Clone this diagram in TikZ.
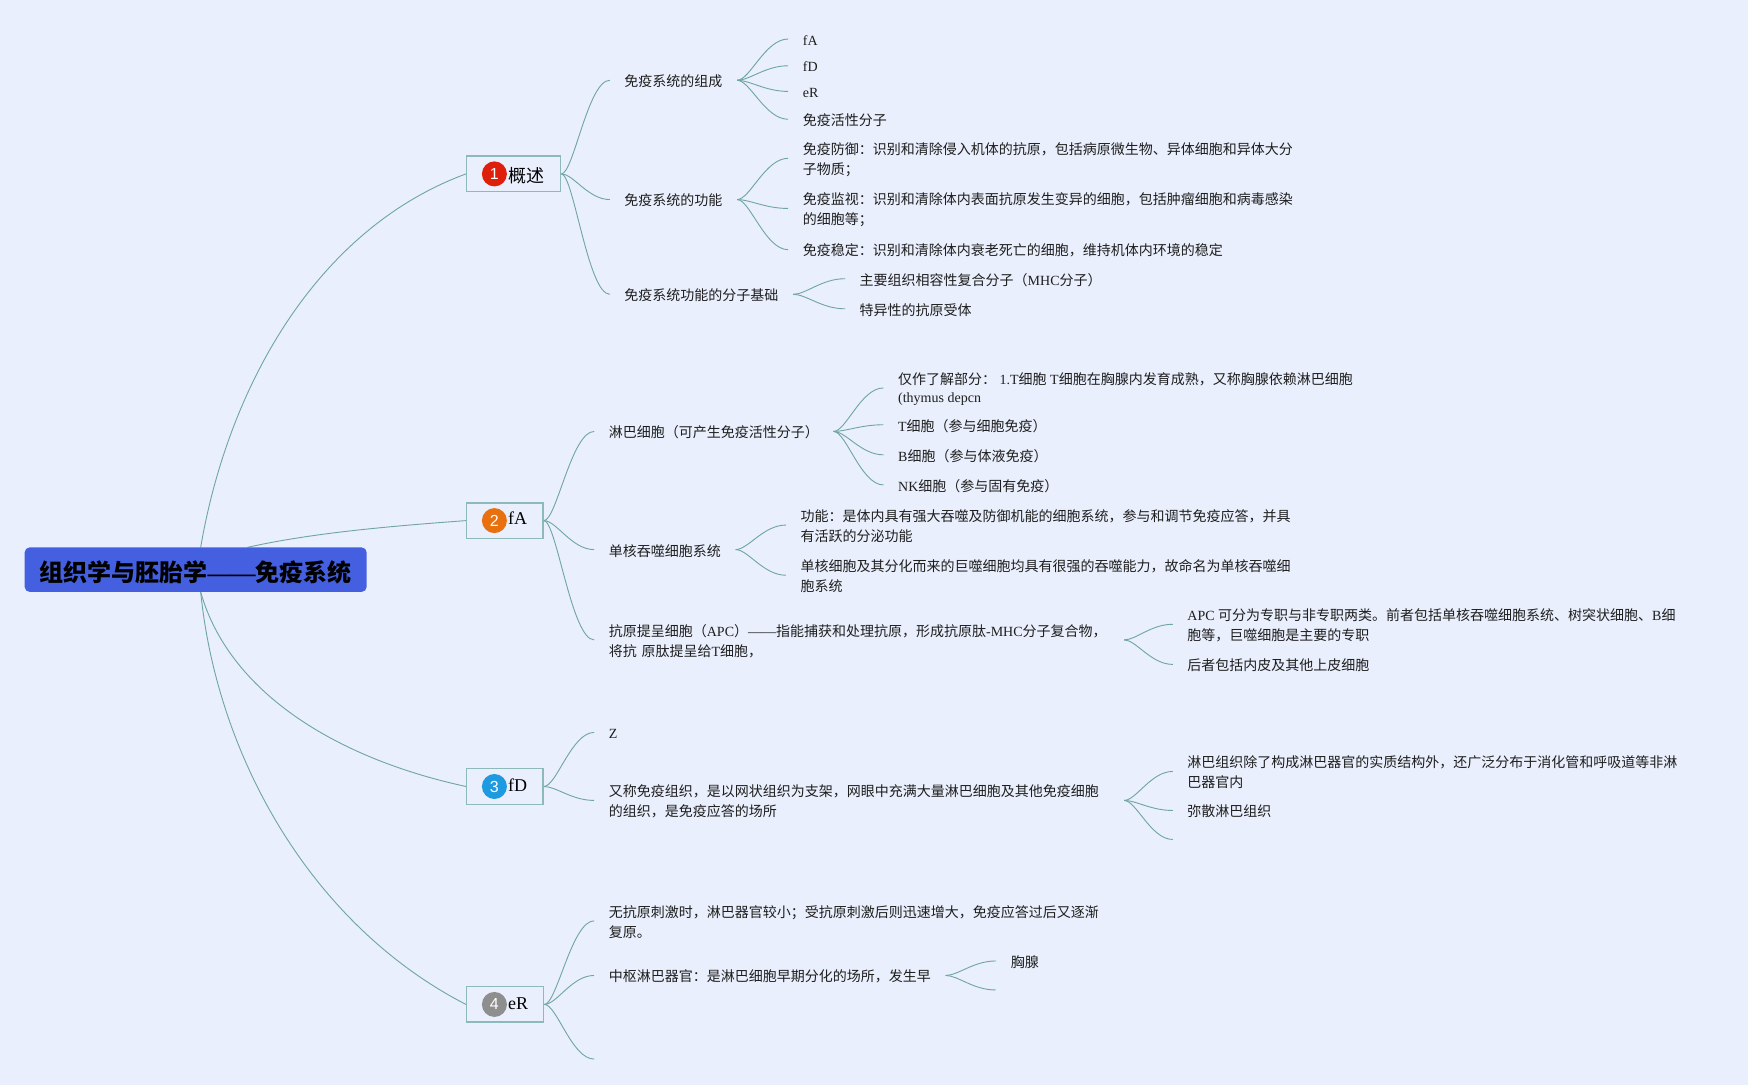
\documentclass[tikz,border=0pt]{standalone}
\usepackage{fontspec}
\usetikzlibrary{calc}
\setmainfont{Noto Sans CJK SC}
\newfontfamily\latfont{Liberation Serif}
\newfontfamily\numfont{Liberation Sans}
\newcommand\lat[1]{{\latfont #1}}
\definecolor{bgc}{HTML}{E9EFFC}
\definecolor{linkc}{HTML}{6FA5A3}
\definecolor{boxc}{HTML}{8DB9BA}
\definecolor{rootc}{HTML}{4460E0}
\definecolor{txtc}{HTML}{1E1E1E}
\definecolor{badgeA}{HTML}{DD1F0B}
\definecolor{badgeB}{HTML}{E8700F}
\definecolor{badgeC}{HTML}{1E9BE0}
\definecolor{badgeD}{HTML}{8E8E8E}
\tikzset{
  leaf/.style={anchor=west,yshift=-1.1pt,inner xsep=14.5pt,inner ysep=0pt,align=left,text=txtc,font=\fontsize{14}{20}\selectfont},
  link/.style={draw=linkc,line width=0.9pt},
  topic/.style={draw=boxc,line width=1.4pt,fill=bgc,anchor=west,inner sep=0pt,minimum height=35.5pt,text=black,font=\fontsize{18}{20}\selectfont},
  badge/.style={circle,inner sep=0pt,minimum size=25pt,text=white,font=\numfont\fontsize{16}{16}\selectfont},
  rootbox/.style={rounded corners=5pt,fill=rootc,minimum width=342pt,minimum height=44.5pt,inner sep=0pt,text=black,font=\bfseries\fontsize{24}{26}\selectfont}
}
\newcommand\conn[3][1.1pt]{\draw[link] let \p1=($(#2)+(0pt,#1)$),\p2=($(#3)+(0pt,1.1pt)$),\n1={\x2-\x1} in (\p1) .. controls (\x1+.25*\n1,\y1) and (\x1+.55*\n1,\y2) .. (\p2);}
\newcommand\tlabel[2]{\hspace{41.5pt}\raisebox{#1}[0pt][0pt]{#2}}
\begin{document}
\begin{tikzpicture}[x=1.1148pt,y=-1.1148pt]
\useasboundingbox (0,0) rectangle (1568,973);
\fill[bgc] (0,0) rectangle (1568,973);
% root and its attachment points
\coordinate (rootN) at (180,491);
\coordinate (rootF) at (222,491);
\coordinate (rootS) at (180,531);
% topics
\node[topic] (t1) at (418,156) {\makebox[94pt][l]{\tlabel{-9pt}{概述}}};
\node[topic] (t2) at (418,467) {\makebox[76.5pt][l]{\tlabel{-4pt}{\lat{fA}}}};
\node[topic] (t3) at (418,705.5) {\makebox[76.5pt][l]{\tlabel{-5pt}{\lat{fD}}}};
\node[topic] (t4) at (418,901) {\makebox[77pt][l]{\tlabel{-5pt}{\lat{eR}}}};
\node[badge,fill=badgeA] (b1) at (443.5,156) {1};
\node[badge,fill=badgeB] (b2) at (443.5,467) {2};
\node[badge,fill=badgeC] (b3) at (443.5,705.5) {3};
\node[badge,fill=badgeD] (b4) at (443.5,901) {4};
\draw[link] (rootN) .. controls (205,345) and (285,205) .. (t1.west);
\draw[link] (rootF) .. controls (280,478) and (350,472) .. (t2.west);
\draw[link] (rootS) .. controls (205,620) and (300,680) .. (t3.west);
\draw[link] (rootS) .. controls (195,680) and (280,830) .. (t4.west);
\node[rootbox] (root) at (175.5,511) {\raisebox{-11.4pt}[0pt][0pt]{组织学与胚胎学\lat{——}免疫系统}};
% section 1
\node[leaf] (a1) at (547,72) {免疫系统的组成};
\node[leaf] (a2) at (547,179) {免疫系统的功能};
\node[leaf] (a3) at (547,264) {免疫系统功能的分子基础};
\node[leaf] (a11) at (707,35) {\lat{fA}};
\node[leaf] (a12) at (707,59) {\lat{fD}};
\node[leaf] (a13) at (707,82) {\lat{eR}};
\node[leaf] (a14) at (707,107) {免疫活性分子};
\node[leaf] (a21) at (707,142) {免疫防御：识别和清除侵入机体的抗原，包括病原微生物、异体细胞和异体大分\\子物质；};
\node[leaf] (a22) at (707,187) {免疫监视：识别和清除体内表面抗原发生变异的细胞，包括肿瘤细胞和病毒感染\\的细胞等；};
\node[leaf] (a23) at (707,224) {免疫稳定：识别和清除体内衰老死亡的细胞，维持机体内环境的稳定};
\node[leaf] (a31) at (758,250) {主要组织相容性复合分子（\lat{MHC}分子）};
\node[leaf] (a32) at (758,277) {特异性的抗原受体};
\conn[0pt]{t1.east}{a1.west}\conn[0pt]{t1.east}{a2.west}\conn[0pt]{t1.east}{a3.west}
\conn{a1.east}{a11.west}\conn{a1.east}{a12.west}\conn{a1.east}{a13.west}\conn{a1.east}{a14.west}
\conn{a2.east}{a21.west}\conn{a2.east}{a22.west}\conn{a2.east}{a23.west}
\conn{a3.east}{a31.west}\conn{a3.east}{a32.west}
% section 2
\node[leaf] (c1) at (533,387) {淋巴细胞（可产生免疫活性分子）};
\node[leaf] (c2) at (533,493) {单核吞噬细胞系统};
\node[leaf,text width=500.5pt] (c3) at (533,574) {抗原提呈细胞（\lat{APC}）\lat{——}指能捕获和处理抗原，形成抗原肽\lat{-MHC}分子复合物，\\将抗\lat{ }原肽提呈给\lat{T}细胞，};
\node[leaf,font=\fontsize{14}{18}\selectfont] (c11) at (792.5,348) {仅作了解部分：\lat{ 1.T}细胞\lat{ T}细胞在胸腺内发育成熟，又称胸腺依赖淋巴细胞\\\lat{(thymus depcn}};
\node[leaf] (c12) at (792.5,381) {\lat{T}细胞（参与细胞免疫）};
\node[leaf] (c13) at (792.5,408) {\lat{B}细胞（参与体液免疫）};
\node[leaf] (c14) at (792.5,435) {\lat{NK}细胞（参与固有免疫）};
\node[leaf] (c21) at (705,471) {功能：是体内具有强大吞噬及防御机能的细胞系统，参与和调节免疫应答，并具\\有活跃的分泌功能};
\node[leaf] (c22) at (705,516) {单核细胞及其分化而来的巨噬细胞均具有很强的吞噬能力，故命名为单核吞噬细\\胞系统};
\node[leaf] (c31) at (1052,560) {\lat{APC }可分为专职与非专职两类。前者包括单核吞噬细胞系统、树突状细胞、\lat{B}细\\胞等，巨噬细胞是主要的专职};
\node[leaf] (c32) at (1052,596) {后者包括内皮及其他上皮细胞};
\conn[0pt]{t2.east}{c1.west}\conn[0pt]{t2.east}{c2.west}\conn[0pt]{t2.east}{c3.west}
\conn{c1.east}{c11.west}\conn{c1.east}{c12.west}\conn{c1.east}{c13.west}\conn{c1.east}{c14.west}
\conn{c2.east}{c21.west}\conn{c2.east}{c22.west}
\conn{c3.east}{c31.west}\conn{c3.east}{c32.west}
% section 3
\node[leaf] (d1) at (533,657) {\lat{Z}};
\node[leaf,text width=500.5pt] (d2) at (533,718) {又称免疫组织，是以网状组织为支架，网眼中充满大量淋巴细胞及其他免疫细胞\\的组织，是免疫应答的场所};
\node[leaf] (d21) at (1052,692) {淋巴组织除了构成淋巴器官的实质结构外，还广泛分布于消化管和呼吸道等非淋\\巴器官内};
\node[leaf] (d22) at (1052,727) {弥散淋巴组织};
\coordinate (d23) at (1052,754);
\conn[0pt]{t3.east}{d1.west}\conn[0pt]{t3.east}{d2.west}
\conn{d2.east}{d21.west}\conn{d2.east}{d22.west}\conn{d2.east}{d23}
% section 4
\node[leaf] (e1) at (533,826) {无抗原刺激时，淋巴器官较小；受抗原刺激后则迅速增大，免疫应答过后又逐渐\\复原。};
\node[leaf] (e2) at (533,875) {中枢淋巴器官：是淋巴细胞早期分化的场所，发生早};
\coordinate (e3) at (533,951);
\node[leaf] (e21) at (893.5,862) {胸腺};
\coordinate (e22) at (893,889);
\conn[0pt]{t4.east}{e1.west}\conn[0pt]{t4.east}{e2.west}\conn[0pt]{t4.east}{e3}
\conn{e2.east}{e21.west}\conn{e2.east}{e22}
\end{tikzpicture}
\end{document}
